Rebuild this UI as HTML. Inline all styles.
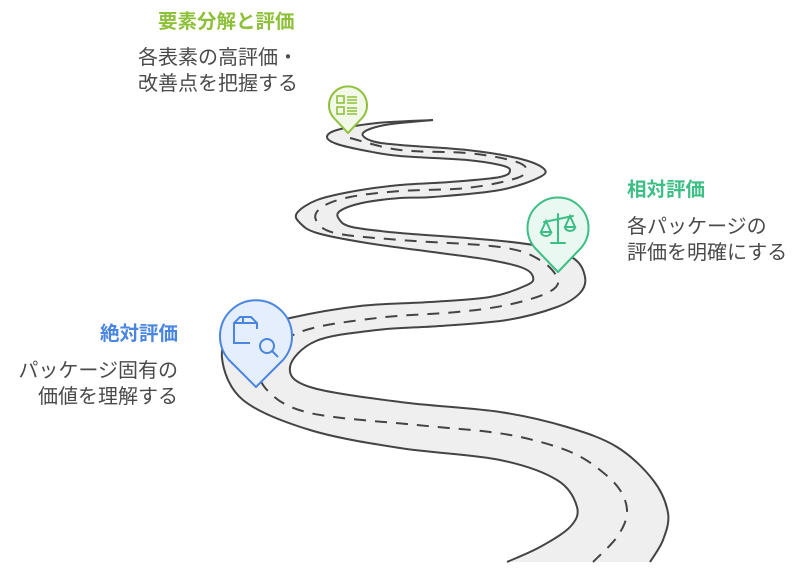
<!DOCTYPE html>
<html><head><meta charset="utf-8"><style>
html,body{margin:0;padding:0;background:#fff;}
body{width:804px;height:576px;position:relative;overflow:hidden;font-family:"Liberation Sans","Noto Sans CJK JP",sans-serif;}
.t{position:absolute;font-size:20px;line-height:26px;color:#4a4a4a;white-space:nowrap;}
.h{font-weight:bold;font-size:19.5px;}
svg{position:absolute;left:0;top:0;}
</style></head><body>
<svg id="s" width="804" height="576" viewBox="0 0 804 576">
<path id="fill" fill="#efefef" stroke="none"/>
<path id="ea" fill="none" stroke="#444" stroke-width="2"/>
<path id="eb" fill="none" stroke="#444" stroke-width="2"/>
<path id="cl" fill="none" stroke="#444" stroke-width="2" stroke-dasharray="12,9"/>
<!-- green pin -->
<path d="M348,133 L333,117 A19,19 0 1 1 363,117 Z" fill="#f3f9e8" stroke="#8fc03a" stroke-width="2" stroke-linejoin="round"/>
<g stroke="#8fc03a" stroke-width="1.6" fill="none">
<rect x="337" y="96" width="7" height="7"/><rect x="337" y="107" width="7" height="7"/>
<path d="M347,97h10M347,100h10M347,103h10M347,108h10M347,111h10M347,114h10"/>
</g>
<!-- teal pin -->
<path d="M558,272 L535,248 A30.5,30.5 0 1 1 581,248 Z" fill="#e9f8f1" stroke="#3dbe85" stroke-width="2" stroke-linejoin="round"/>
<g stroke="#3dbe85" stroke-width="2" fill="none" stroke-linecap="round">
<path d="M558,214v29M551,243h14M544,222l29,-6"/>
<path d="M546,221l-5,11h10z M570,216l-5,11h10z"/>
<path d="M541,232a5,4 0 0 0 10,0 M565,227a5,4 0 0 0 10,0"/>
</g>
<!-- blue pin -->
<path d="M256,387 L229,360 A36,36 0 1 1 283,360 Z" fill="#e4eefc" stroke="#4a86e0" stroke-width="2" stroke-linejoin="round"/>
<g stroke="#4a86e0" stroke-width="2" fill="none">
<path d="M250,343h-16v-20l6,-6h11l6,6v6M234,323h23M243,317v6"/>
<circle cx="267" cy="346" r="7"/><path d="M272,351l6,6"/>
</g>
</svg>
<div class="t h" style="left:158px;top:9px;color:#8fc03a;">要素分解と評価</div>
<div class="t" style="left:138px;top:45px;">各表素の高評価・<br>改善点を把握する</div>
<div class="t h" style="left:627px;top:177px;color:#3dbe85;">相対評価</div>
<div class="t" style="left:627px;top:214px;">各パッケージの<br>評価を明確にする</div>
<div class="t h" style="right:626px;top:321px;color:#4a86e0;text-align:right;">絶対評価</div>
<div class="t" style="right:626px;top:358px;text-align:right;">パッケージ固有の<br>価値を理解する</div>
<script>
function cr(p){var d="M"+p[0][0]+","+p[0][1];for(var i=0;i<p.length-1;i++){var p0=p[i-1]||p[i],p1=p[i],p2=p[i+1],p3=p[i+2]||p2;
var c1=[p1[0]+(p2[0]-p0[0])/6,p1[1]+(p2[1]-p0[1])/6],c2=[p2[0]-(p3[0]-p1[0])/6,p2[1]-(p3[1]-p1[1])/6];
d+=" C"+c1.join(",")+" "+c2.join(",")+" "+p2.join(",");}return d;}
var A=[[433,120],[377,123],[337,130],[327,137],[337,144],[367,151],[400,156],[467,160],[500,165],[510,170],[500,177],[450,182],[400,185],[355,191],[317,200],[297,213],[300,223],[317,233],[367,243],[440,253],[490,260],[523,268],[533,277],[527,285],[490,297],[430,302],[360,306],[290,318],[236,334],[222,358],[243,400],[310,430],[400,448],[500,460],[557,480],[577,507],[570,527],[540,547],[507,562]];
var B=[[433,120],[385,125],[363,133],[372,141],[400,145],[467,150],[517,158],[543,168],[540,177],[500,190],[433,197],[400,198],[362,203],[340,211],[339,219],[352,227],[400,233],[467,238],[533,245],[573,258],[585,277],[580,293],[557,307],[507,320],[440,326],[377,330],[316,341],[290,367],[310,387],[400,402],[500,412],[567,427],[617,447],[653,480],[668,513],[663,540],[650,562]];
var C=[[350,138],[400,150],[467,153],[510,160],[526,168],[517,178],[467,188],[400,191],[350,197],[322,207],[316,220],[335,233],[400,240],[500,247],[540,260],[558,280],[547,293],[507,305],[457,312],[377,318],[300,332],[262,362],[267,390],[310,413],[417,425],[490,432],[533,440],[573,453],[600,470],[620,490],[627,513],[617,537],[593,562]];
function g(id){return document.getElementById(id);}
var da=cr(A),db=cr(B);
g("ea").setAttribute("d",da);g("eb").setAttribute("d",db);g("cl").setAttribute("d",cr(C));
var Br=B.slice().reverse();var dr=cr(Br);
g("fill").setAttribute("d",da+" L"+Br[0].join(",")+dr.slice(dr.indexOf(" C"))+"Z");
</script>
</body></html>
